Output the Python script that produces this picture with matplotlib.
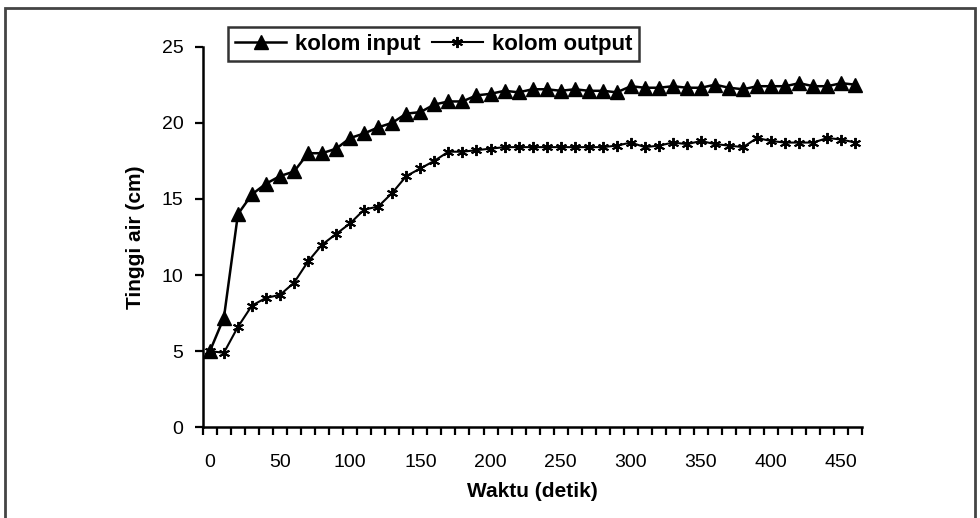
import numpy as np
import matplotlib
matplotlib.use('Agg')
import matplotlib.pyplot as plt
from matplotlib.patches import Rectangle

plt.rcParams['font.family'] = ['Liberation Sans', 'DejaVu Sans']

# Time (seconds), one reading every 10 s
waktu = list(range(0, 470, 10))

kolom_input = [5.0, 7.2, 14.0, 15.3, 16.0, 16.5, 16.8, 18.0, 18.0, 18.3,
               19.0, 19.3, 19.7, 20.0, 20.6, 20.7, 21.2, 21.4, 21.4, 21.8,
               21.9, 22.1, 22.0, 22.2, 22.2, 22.1, 22.2, 22.1, 22.1, 22.0,
               22.4, 22.3, 22.3, 22.4, 22.3, 22.3, 22.5, 22.3, 22.2, 22.4,
               22.4, 22.4, 22.6, 22.4, 22.4, 22.6, 22.5]

kolom_output = [5.0, 4.9, 6.6, 8.0, 8.5, 8.7, 9.5, 10.9, 12.0, 12.7,
                13.4, 14.3, 14.5, 15.4, 16.5, 17.0, 17.5, 18.1, 18.1, 18.2,
                18.3, 18.4, 18.4, 18.4, 18.4, 18.4, 18.4, 18.4, 18.4, 18.5,
                18.7, 18.4, 18.5, 18.7, 18.6, 18.8, 18.6, 18.5, 18.4, 19.0,
                18.8, 18.7, 18.7, 18.7, 19.0, 18.9, 18.7]

x_labels = [str(v) for v in range(0, 460, 50)]

fig = plt.figure(figsize=(9.8, 5.18), dpi=100)
ax = fig.add_axes([0.207, 0.175, 0.673, 0.735])

# category style axis like a spreadsheet line chart
pos = np.arange(len(waktu))
ax.plot(pos, kolom_input, color='black', lw=1.8, marker='^', ms=10,
        label='kolom input')
ax.plot(pos, kolom_output, color='black', lw=1.5, marker=(6, 2, 0), ms=8,
        mew=1.4, label='kolom output')

ax.set_xlim(-0.5, len(waktu) - 0.5)
ax.set_ylim(0, 25)
ax.set_yticks(range(0, 26, 5))

ax.set_xticks([waktu.index(int(s)) for s in x_labels])
ax.set_xticklabels(x_labels)
ax.tick_params(axis='x', length=0, pad=19, labelsize=14)
ax.set_xticks(np.arange(-0.5, len(waktu), 1), minor=True)
ax.tick_params(axis='x', which='minor', length=6, width=1.6, direction='out')
ax.tick_params(axis='y', length=6, width=1.6, direction='out', labelsize=14, pad=8)

for s in ['top', 'right']:
    ax.spines[s].set_visible(False)
for s in ['left', 'bottom']:
    ax.spines[s].set_linewidth(1.8)

ax.set_xlabel('Waktu (detik)', fontsize=15, fontweight='bold', labelpad=8)
ax.set_ylabel('Tinggi air (cm)', fontsize=15, fontweight='bold', labelpad=12)

leg = ax.legend(loc='upper left', bbox_to_anchor=(0.233, 0.948),
                bbox_transform=fig.transFigure, ncol=2,
                frameon=True, fancybox=False, edgecolor='black',
                handlelength=2.3, handletextpad=0.4, columnspacing=0.5,
                borderpad=0.3, borderaxespad=0,
                prop={'weight': 'bold', 'size': 16})
leg.get_frame().set_linewidth(1.8)

# outer chart border
fig.patches.append(Rectangle((0.005, -0.02), 0.99, 1.005, transform=fig.transFigure,
                             fill=False, edgecolor='#444444', lw=2))

fig.savefig('out.png', dpi=100, facecolor='white')
